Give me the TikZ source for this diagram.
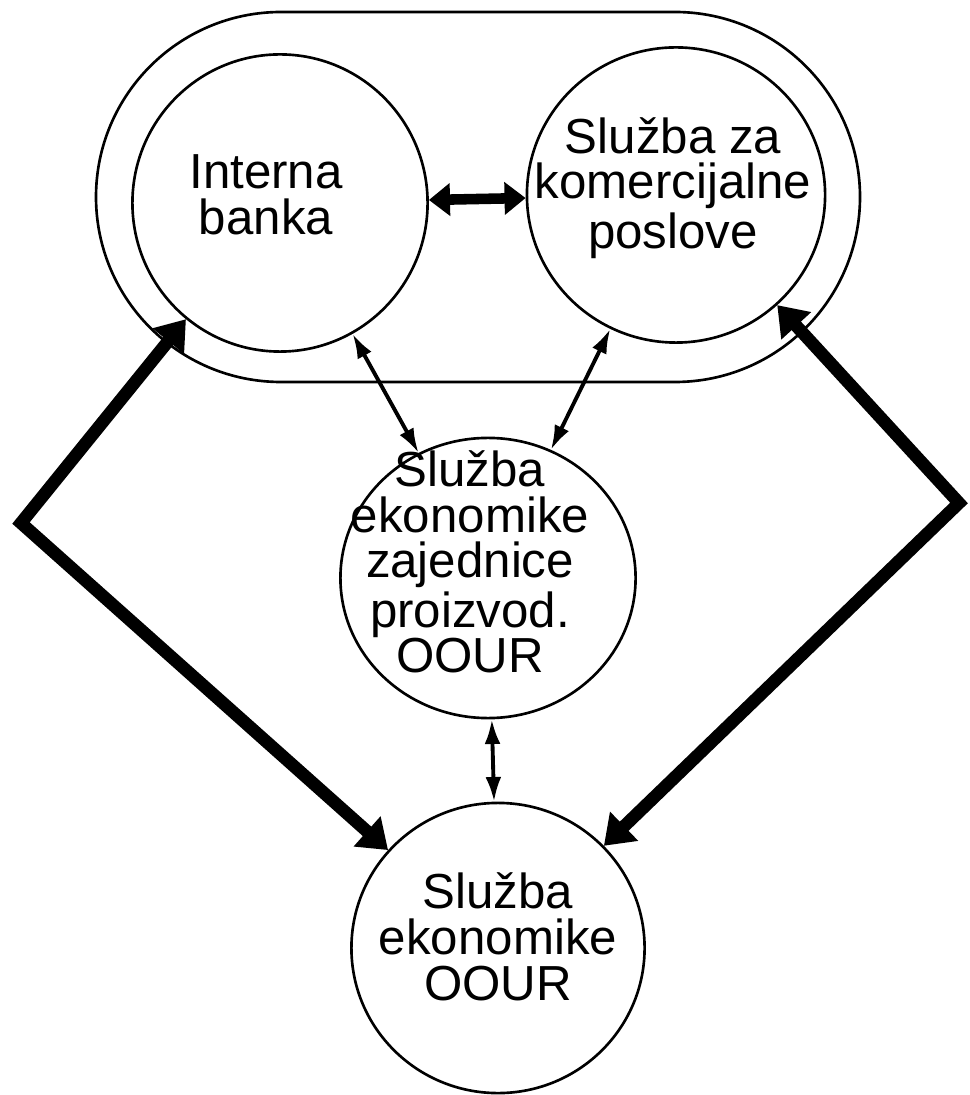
\documentclass[tikz,border=0pt]{standalone}
\usepackage{fontspec}
\setmainfont{Liberation Sans}
\usetikzlibrary{shapes.geometric,arrows.meta}

\tikzset{kr/.style={draw, ellipse, inner sep=0pt, line width=0.75pt}}
\tikzset{tk/.style={align=center, inner sep=0pt, font=\fontsize{14}{13}\selectfont}}

\begin{document}
\begin{tikzpicture}[x=0.01cm, y=-0.01cm]
\tikzstyle{ts}=[line width=1.1pt, {Latex[length=7pt,width=4.5pt]}-{Latex[length=7pt,width=4.5pt]}]
\tikzstyle{db}=[line width=3.6pt, {Triangle[length=8pt,width=11pt]}-{Triangle[length=8pt,width=11pt]}]
\tikzstyle{dt}=[line width=3pt, {Triangle[length=6pt,width=9pt]}-{Triangle[length=6pt,width=9pt]}]
\useasboundingbox (0,0) rectangle (969,1095);
% okvir
\draw[line width=0.75pt, rounded corners=1.85cm] (96,12) rectangle (860,382);
% krugovi
\node[kr, minimum width=2.95cm, minimum height=2.97cm] (ib) at (280,203) {};
\node[kr, minimum width=2.98cm, minimum height=2.95cm] (kp) at (676,195) {};
\node[kr, minimum width=2.95cm, minimum height=2.80cm] (sez) at (488,578) {};
\node[kr, minimum width=2.93cm, minimum height=2.90cm] (sob) at (498,948) {};
% tekst
\node[tk] (ibt) at (266,195) {Interna\\banka};
\node[tk] (kpt) at (673,188) {Služba za\\komercijalne\\poslove};
\node[tk] (sezt) at (470,562) {Služba\\ekonomike\\zajednice\\proizvod.\\OOUR};
\node[tk] (sobt) at (498,937) {Služba\\ekonomike\\OOUR};
% veze
\coordinate (lu) at (21,523);
\coordinate (du) at (959,503);
\draw[dt] (ib) -- (kp);
\draw[ts] (ib) -- (sez);
\draw[ts] (kp) -- (sez);
\draw[ts] (sez) -- (sob);
\draw[db] (ib) -- (lu) -- (sob);
\draw[db] (kp) -- (du) -- (sob);
\end{tikzpicture}
\end{document}
